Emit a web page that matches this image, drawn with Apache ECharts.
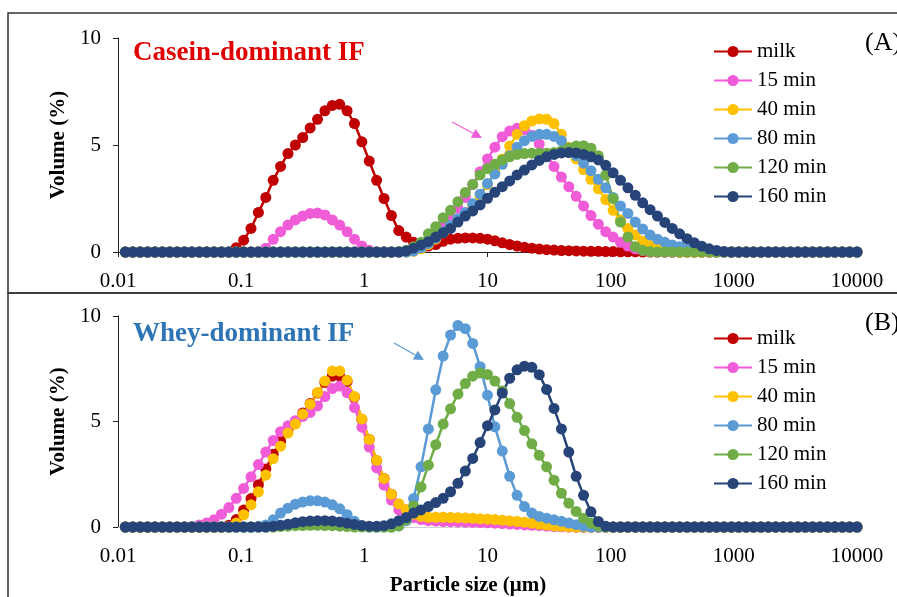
<!DOCTYPE html>
<html>
<head>
<meta charset="utf-8">
<title>Particle size distribution - casein vs whey dominant IF</title>
<script src="https://cdn.jsdelivr.net/npm/echarts@6/dist/echarts.min.js"></script>
<style>
  html, body { margin: 0; padding: 0; background: #fff; }
  #chart { width: 897px; height: 597px; }
</style>
</head>
<body>
<div id="chart"></div>
<script>
  // size classes (um), log spaced like the laser diffraction output
  const sizes = [
    0.01148, 0.01318, 0.01514, 0.01738, 0.01995, 0.02291, 0.0263, 0.0302, 0.03467, 0.03981,
    0.04571, 0.05248, 0.06026, 0.06918, 0.07943, 0.0912, 0.1047, 0.1202, 0.138, 0.1585,
    0.182, 0.2089, 0.2399, 0.2754, 0.3162, 0.3631, 0.4169, 0.4786, 0.5495, 0.631,
    0.7244, 0.8318, 0.955, 1.096, 1.259, 1.445, 1.66, 1.905, 2.188, 2.512,
    2.884, 3.311, 3.802, 4.365, 5.012, 5.754, 6.607, 7.586, 8.71, 10,
    11.48, 13.18, 15.14, 17.38, 19.95, 22.91, 26.3, 30.2, 34.67, 39.81,
    45.71, 52.48, 60.26, 69.18, 79.43, 91.2, 104.7, 120.2, 138, 158.5,
    182, 208.9, 239.9, 275.4, 316.2, 363.1, 416.9, 478.6, 549.5, 631,
    724.4, 831.8, 955, 1096, 1259, 1445, 1660, 1905, 2188, 2512,
    2884, 3311, 3802, 4365, 5012, 5754, 6607, 7586, 8710, 10000
  ];
  const xTickLabels = ['0.01', '0.1', '1', '10', '100', '1000', '10000'];
  const seriesNames = ['milk', '15 min', '40 min', '80 min', '120 min', '160 min'];
  const colors = ['#C00000', '#F05CD8', '#FFC000', '#5B9BD5', '#70AD47', '#264478'];

  // (A) casein-dominant IF, volume %
  const caseinMilk = [
    0, 0, 0, 0, 0, 0, 0, 0, 0, 0,
    0, 0, 0, 0, 0, 0.2, 0.55, 1.1, 1.85, 2.55,
    3.35, 4.0, 4.6, 5.0, 5.35, 5.8, 6.2, 6.6, 6.85, 6.9,
    6.6, 6.0, 5.15, 4.25, 3.35, 2.5, 1.7, 1.0, 0.7, 0.45,
    0.3, 0.28, 0.35, 0.5, 0.6, 0.64, 0.66, 0.66, 0.64, 0.6,
    0.52, 0.43, 0.35, 0.28, 0.22, 0.18, 0.14, 0.11, 0.09, 0.07,
    0.06, 0.05, 0.04, 0.03, 0.03, 0.02, 0.02, 0.01, 0.01, 0.01,
    0, 0, 0, 0, 0, 0, 0, 0, 0, 0,
    0, 0, 0, 0, 0, 0, 0, 0, 0, 0,
    0, 0, 0, 0, 0, 0, 0, 0, 0, 0
  ];
  const casein15 = [
    0, 0, 0, 0, 0, 0, 0, 0, 0, 0,
    0, 0, 0, 0, 0, 0, 0, 0, 0.02, 0.18,
    0.59, 0.95, 1.26, 1.5, 1.68, 1.8, 1.82, 1.73, 1.5, 1.26,
    0.95, 0.6, 0.28, 0.08, 0, 0, 0, 0, 0.05, 0.15,
    0.3, 0.5, 0.8, 1.2, 1.65, 2.05, 2.55, 3.15, 3.75, 4.35,
    4.9, 5.39, 5.65, 5.78, 5.72, 5.45, 5.05, 4.55, 4.0, 3.5,
    3.05, 2.6, 2.15, 1.7, 1.3, 0.95, 0.7, 0.45, 0.28, 0.15,
    0.07, 0.03, 0, 0, 0, 0, 0, 0, 0, 0,
    0, 0, 0, 0, 0, 0, 0, 0, 0, 0,
    0, 0, 0, 0, 0, 0, 0, 0, 0, 0
  ];
  const casein40 = [
    0, 0, 0, 0, 0, 0, 0, 0, 0, 0,
    0, 0, 0, 0, 0, 0, 0, 0, 0, 0,
    0, 0, 0, 0, 0, 0, 0, 0, 0, 0,
    0, 0, 0, 0, 0, 0, 0, 0, 0, 0.03,
    0.15, 0.35, 0.6, 0.9, 1.2, 1.5, 1.8, 2.15, 2.6, 3.15,
    3.75, 4.35, 4.95, 5.5, 5.9, 6.12, 6.22, 6.2, 6.0, 5.5,
    4.9, 4.35, 3.85, 3.4, 2.95, 2.45, 1.95, 1.5, 1.1, 0.8,
    0.5, 0.3, 0.15, 0.06, 0.02, 0, 0, 0, 0, 0,
    0, 0, 0, 0, 0, 0, 0, 0, 0, 0,
    0, 0, 0, 0, 0, 0, 0, 0, 0, 0
  ];
  const casein80 = [
    0, 0, 0, 0, 0, 0, 0, 0, 0, 0,
    0, 0, 0, 0, 0, 0, 0, 0, 0, 0,
    0, 0, 0, 0, 0, 0, 0, 0, 0, 0,
    0, 0, 0, 0, 0, 0, 0, 0, 0, 0.05,
    0.2, 0.4, 0.65, 0.95, 1.25, 1.55, 1.85, 2.25, 2.7, 3.2,
    3.65, 4.1, 4.5, 4.9, 5.2, 5.4, 5.5, 5.5, 5.4, 5.2,
    4.85, 4.5, 4.15, 3.8, 3.4, 3.0, 2.55, 2.15, 1.8, 1.4,
    1.08, 0.8, 0.6, 0.45, 0.33, 0.24, 0.16, 0.1, 0.05, 0.02,
    0, 0, 0, 0, 0, 0, 0, 0, 0, 0,
    0, 0, 0, 0, 0, 0, 0, 0, 0, 0
  ];
  const casein120 = [
    0, 0, 0, 0, 0, 0, 0, 0, 0, 0,
    0, 0, 0, 0, 0, 0, 0, 0, 0, 0,
    0, 0, 0, 0, 0, 0, 0, 0, 0, 0,
    0, 0, 0, 0, 0, 0, 0, 0.02, 0.08, 0.25,
    0.45, 0.85, 1.18, 1.6, 1.95, 2.35, 2.78, 3.16, 3.6, 3.9,
    4.1, 4.3, 4.45, 4.56, 4.6, 4.62, 4.62, 4.62, 4.65, 4.72,
    4.85, 4.95, 4.97, 4.85, 4.5, 3.6, 2.5, 1.4, 0.7, 0.25,
    0.08, 0.02, 0, 0, 0, 0, 0, 0, 0, 0,
    0, 0, 0, 0, 0, 0, 0, 0, 0, 0,
    0, 0, 0, 0, 0, 0, 0, 0, 0, 0
  ];
  const casein160 = [
    0, 0, 0, 0, 0, 0, 0, 0, 0, 0,
    0, 0, 0, 0, 0, 0, 0, 0, 0, 0,
    0, 0, 0, 0, 0, 0, 0, 0, 0, 0,
    0, 0, 0, 0, 0, 0, 0, 0, 0.05, 0.18,
    0.33, 0.48, 0.7, 0.9, 1.1, 1.4, 1.68, 1.92, 2.2, 2.51,
    2.79, 3.05, 3.32, 3.6, 3.83, 4.07, 4.28, 4.45, 4.56, 4.63,
    4.65, 4.63, 4.56, 4.45, 4.3, 4.05, 3.7, 3.35, 3.0, 2.65,
    2.3, 1.98, 1.68, 1.38, 1.1, 0.85, 0.62, 0.43, 0.27, 0.15,
    0.07, 0.02, 0, 0, 0, 0, 0, 0, 0, 0,
    0, 0, 0, 0, 0, 0, 0, 0, 0, 0
  ];

  // (B) whey-dominant IF, volume %
  const wheyMilk = [
    0, 0, 0, 0, 0, 0, 0, 0, 0, 0,
    0, 0, 0, 0, 0.08, 0.35, 0.8, 1.35, 2.0, 2.75,
    3.45, 4.05, 4.6, 5.0, 5.4, 5.85, 6.35, 6.85, 7.15, 7.15,
    6.9, 6.15, 5.1, 4.15, 3.15, 2.3, 1.55, 1.05, 0.8, 0.58,
    0.47, 0.44, 0.44, 0.44, 0.43, 0.42, 0.41, 0.39, 0.37, 0.35,
    0.33, 0.3, 0.27, 0.24, 0.2, 0.16, 0.11, 0.07, 0.04, 0.02,
    0.01, 0, 0, 0, 0, 0, 0, 0, 0, 0,
    0, 0, 0, 0, 0, 0, 0, 0, 0, 0,
    0, 0, 0, 0, 0, 0, 0, 0, 0, 0,
    0, 0, 0, 0, 0, 0, 0, 0, 0, 0
  ];
  const whey15 = [
    0, 0, 0, 0, 0, 0, 0, 0, 0, 0.02,
    0.1, 0.19, 0.34, 0.61, 0.92, 1.36, 1.83, 2.38, 2.96, 3.55,
    4.1, 4.52, 4.8, 5.04, 5.24, 5.43, 5.74, 6.18, 6.56, 6.68,
    6.37, 5.66, 4.73, 3.79, 2.8, 1.99, 1.28, 0.81, 0.58, 0.45,
    0.35, 0.3, 0.28, 0.26, 0.25, 0.24, 0.23, 0.22, 0.21, 0.2,
    0.18, 0.16, 0.14, 0.12, 0.1, 0.08, 0.06, 0.04, 0.02, 0.01,
    0, 0, 0, 0, 0, 0, 0, 0, 0, 0,
    0, 0, 0, 0, 0, 0, 0, 0, 0, 0,
    0, 0, 0, 0, 0, 0, 0, 0, 0, 0,
    0, 0, 0, 0, 0, 0, 0, 0, 0, 0
  ];
  const whey40 = [
    0, 0, 0, 0, 0, 0, 0, 0, 0, 0,
    0, 0, 0, 0, 0, 0.19, 0.58, 1.05, 1.67, 2.46,
    3.24, 3.83, 4.46, 4.88, 5.35, 5.82, 6.37, 6.92, 7.39, 7.39,
    6.96, 6.18, 5.12, 4.15, 3.16, 2.3, 1.55, 1.1, 0.82, 0.6,
    0.5, 0.46, 0.46, 0.46, 0.45, 0.44, 0.43, 0.41, 0.39, 0.37,
    0.35, 0.32, 0.29, 0.26, 0.22, 0.18, 0.13, 0.09, 0.05, 0.03,
    0.01, 0, 0, 0, 0, 0, 0, 0, 0, 0,
    0, 0, 0, 0, 0, 0, 0, 0, 0, 0,
    0, 0, 0, 0, 0, 0, 0, 0, 0, 0,
    0, 0, 0, 0, 0, 0, 0, 0, 0, 0
  ];
  const whey80 = [
    0, 0, 0, 0, 0, 0, 0, 0, 0, 0,
    0, 0, 0, 0, 0, 0, 0, 0, 0.03, 0.1,
    0.34, 0.66, 0.89, 1.08, 1.18, 1.24, 1.24, 1.18, 1.05, 0.86,
    0.58, 0.27, 0.05, 0, 0, 0, 0, 0.05, 0.3, 1.35,
    2.85, 4.65, 6.5, 8.1, 9.1, 9.55, 9.4, 8.7, 7.6, 6.25,
    4.75, 3.6, 2.4, 1.5, 0.97, 0.66, 0.5, 0.42, 0.34, 0.27,
    0.19, 0.11, 0.04, 0, 0, 0, 0, 0, 0, 0,
    0, 0, 0, 0, 0, 0, 0, 0, 0, 0,
    0, 0, 0, 0, 0, 0, 0, 0, 0, 0,
    0, 0, 0, 0, 0, 0, 0, 0, 0, 0
  ];
  const whey120 = [
    0, 0, 0, 0, 0, 0, 0, 0, 0, 0,
    0, 0, 0, 0, 0, 0, 0, 0, 0, 0,
    0, 0.02, 0.04, 0.06, 0.07, 0.08, 0.08, 0.07, 0.06, 0.04,
    0.02, 0, 0, 0, 0, 0, 0, 0.05, 0.35, 1.0,
    1.9, 2.93, 3.9, 4.88, 5.6, 6.3, 6.8, 7.15, 7.3, 7.23,
    6.92, 6.45, 5.85, 5.2, 4.57, 3.94, 3.4, 2.85, 2.22, 1.6,
    1.13, 0.74, 0.42, 0.19, 0.05, 0, 0, 0, 0, 0,
    0, 0, 0, 0, 0, 0, 0, 0, 0, 0,
    0, 0, 0, 0, 0, 0, 0, 0, 0, 0,
    0, 0, 0, 0, 0, 0, 0, 0, 0, 0
  ];
  const whey160 = [
    0, 0, 0, 0, 0, 0, 0, 0, 0, 0,
    0, 0, 0, 0, 0, 0, 0, 0, 0, 0,
    0.03, 0.08, 0.13, 0.2, 0.25, 0.28, 0.3, 0.3, 0.28, 0.24,
    0.18, 0.12, 0.07, 0.04, 0.03, 0.06, 0.15, 0.3, 0.45, 0.66,
    0.81, 0.97, 1.16, 1.36, 1.67, 2.07, 2.65, 3.25, 4.0, 4.8,
    5.55, 6.35, 7.05, 7.45, 7.62, 7.57, 7.22, 6.52, 5.62, 4.65,
    3.55, 2.4, 1.5, 0.72, 0.26, 0.03, 0, 0, 0, 0,
    0, 0, 0, 0, 0, 0, 0, 0, 0, 0,
    0, 0, 0, 0, 0, 0, 0, 0, 0, 0,
    0, 0, 0, 0, 0, 0, 0, 0, 0, 0
  ];

  const caseinSets = [caseinMilk, casein15, casein40, casein80, casein120, casein160];
  const wheySets = [wheyMilk, whey15, whey40, whey80, whey120, whey160];

  const FONT = 'Liberation Serif';
  const chart = echarts.init(document.getElementById('chart'), null, { renderer: 'canvas' });

  function buildSeries (sets, axisIndex) {
    return sets.map(function (values, k) {
      return {
        name: seriesNames[k],
        type: 'line',
        xAxisIndex: axisIndex,
        yAxisIndex: axisIndex,
        data: sizes.map(function (s, i) { return [s, values[i]]; }),
        symbol: 'circle',
        symbolSize: 11,
        showSymbol: true,
        showAllSymbol: true,
        clip: false,
        color: colors[k],
        lineStyle: { width: 2.5, color: colors[k] },
        itemStyle: { color: colors[k] }
      };
    });
  }

  function xAxisFor (gridIndex, bottom) {
    return {
      type: 'log',
      logBase: 10,
      gridIndex: gridIndex,
      min: 0.01,
      max: 10000,
      name: bottom ? 'Particle size (μm)' : '',
      nameLocation: 'middle',
      nameGap: 48,
      nameTextStyle: { fontFamily: FONT, fontSize: 21, fontWeight: 'bold', color: '#000', padding: [0, 39, 0, 0] },
      axisLine: { show: true, onZero: false, lineStyle: { color: bottom ? '#d0d0d0' : '#222', width: 1 } },
      axisTick: { show: !bottom, length: 5, lineStyle: { color: '#222' } },
      minorTick: { show: false },
      splitLine: { show: false },
      axisLabel: {
        margin: 19,
        fontFamily: FONT,
        fontSize: 21,
        color: '#000',
        formatter: function (v) {
          return xTickLabels[Math.round(Math.log10(v)) + 2];
        }
      }
    };
  }

  function yAxisFor (gridIndex) {
    return {
      type: 'value',
      gridIndex: gridIndex,
      min: 0,
      max: 10,
      interval: 5,
      name: 'Volume (%)',
      nameLocation: 'middle',
      nameGap: 45,
      nameTextStyle: { fontFamily: FONT, fontSize: 21, fontWeight: 'bold', color: '#000' },
      axisLine: { show: true, lineStyle: { color: '#222', width: 1 } },
      axisTick: { show: true, length: 5, lineStyle: { color: '#222' } },
      splitLine: { show: false },
      axisLabel: { margin: 17, fontFamily: FONT, fontSize: 21, color: '#000' }
    };
  }

  function legendFor (top) {
    return {
      data: seriesNames,
      orient: 'vertical',
      left: 713,
      top: top,
      itemWidth: 38,
      itemHeight: 14,
      itemGap: 8,
      selectedMode: false,
      padding: 0,
      textStyle: { fontFamily: FONT, fontSize: 21, color: '#000', lineHeight: 21 }
    };
  }

  function arrow (x1, y1, x2, y2, color) {
    const dx = x2 - x1;
    const dy = y2 - y1;
    const len = Math.sqrt(dx * dx + dy * dy);
    const ux = dx / len;
    const uy = dy / len;
    const bx = x2 - ux * 10;
    const by = y2 - uy * 10;
    return [
      { type: 'line', shape: { x1: x1, y1: y1, x2: bx, y2: by }, style: { stroke: color, lineWidth: 1.2 } },
      {
        type: 'polygon',
        shape: { points: [[x2, y2], [bx - uy * 5, by + ux * 5], [bx + uy * 5, by - ux * 5]] },
        style: { fill: color }
      }
    ];
  }

  chart.setOption({
    animation: false,
    backgroundColor: '#fff',
    grid: [
      { left: 118, top: 38, width: 739, height: 214 },
      { left: 118, top: 316, width: 739, height: 213 }
    ],
    xAxis: [xAxisFor(0, false), xAxisFor(1, true)],
    yAxis: [yAxisFor(0), yAxisFor(1)],
    legend: [legendFor(41), legendFor(328)],
    series: buildSeries(caseinSets, 0).concat(buildSeries(wheySets, 1)),
    graphic: [
      // panel frames
      { type: 'rect', shape: { x: 8, y: 13, width: 900, height: 280 }, style: { fill: 'none', stroke: '#333', lineWidth: 1.5 } },
      { type: 'rect', shape: { x: 8, y: 293, width: 900, height: 320 }, style: { fill: 'none', stroke: '#333', lineWidth: 1.5 } },
      { type: 'text', left: 133, top: 40, style: { text: 'Casein-dominant IF', fill: '#E00000', font: 'bold 27px "Liberation Serif"' } },
      { type: 'text', left: 133, top: 321, style: { text: 'Whey-dominant IF', fill: '#2E75B6', font: 'bold 27px "Liberation Serif"' } },
      { type: 'text', left: 865, top: 30, style: { text: '(A)', fill: '#000', font: '26px "Liberation Serif"' } },
      { type: 'text', left: 865, top: 310, style: { text: '(B)', fill: '#000', font: '26px "Liberation Serif"' } }
    ].concat(arrow(452, 122, 482, 138, '#F05CD8'), arrow(394, 343, 424, 360, '#5B9BD5'))
  });
</script>
</body>
</html>
